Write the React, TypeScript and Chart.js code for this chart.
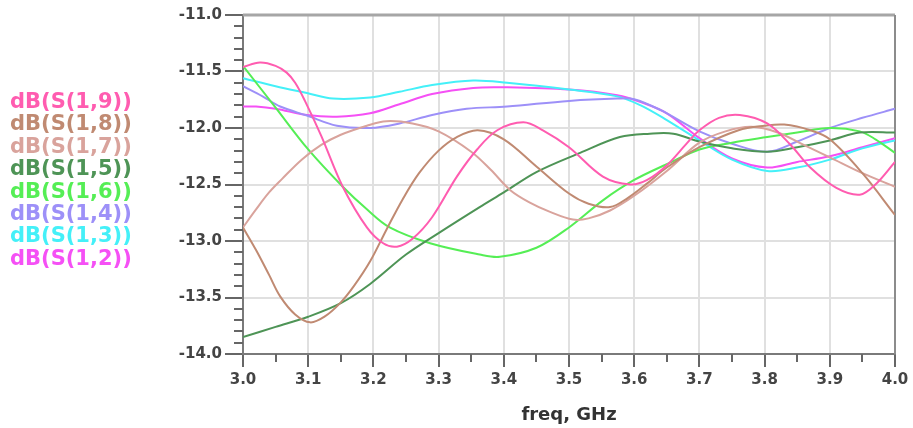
import React, { useEffect, useRef } from 'react';
import { Chart, registerables } from 'chart.js';

Chart.register(...registerables);

// ---- tick labels ----
const xTicks = [3.0, 3.1, 3.2, 3.3, 3.4, 3.5, 3.6, 3.7, 3.8, 3.9, 4.0];
const yTicks = [-14.0, -13.5, -13.0, -12.5, -12.0, -11.5, -11.0];
const xTitle = 'freq, GHz';

// ---- series ----
const s19Freq = [3.0, 3.026, 3.05, 3.067, 3.08, 3.095, 3.12, 3.153, 3.19, 3.215, 3.236, 3.26, 3.29, 3.328, 3.359, 3.39, 3.43, 3.46, 3.5, 3.552, 3.594, 3.62, 3.65, 3.68, 3.7, 3.73, 3.762, 3.804, 3.84, 3.87, 3.91, 3.946, 3.97, 4.0];
const s19Db = [-11.46, -11.42, -11.45, -11.51, -11.6, -11.76, -12.07, -12.52, -12.88, -13.02, -13.05, -12.98, -12.79, -12.43, -12.19, -12.02, -11.95, -12.02, -12.17, -12.43, -12.5, -12.46, -12.33, -12.14, -12.02, -11.91, -11.885, -11.96, -12.15, -12.35, -12.53, -12.59, -12.5, -12.3];

const s18Freq = [3.0, 3.02, 3.04, 3.057, 3.08, 3.103, 3.125, 3.149, 3.17, 3.195, 3.22, 3.245, 3.27, 3.3, 3.328, 3.36, 3.4, 3.45, 3.5, 3.53, 3.563, 3.59, 3.62, 3.65, 3.7, 3.76, 3.8, 3.83, 3.87, 3.9, 3.95, 4.0];
const s18Db = [-12.88, -13.08, -13.3, -13.49, -13.65, -13.72, -13.67, -13.55, -13.4, -13.18, -12.9, -12.63, -12.4, -12.2, -12.08, -12.02, -12.1, -12.34, -12.58, -12.67, -12.7, -12.62, -12.49, -12.35, -12.17, -12.02, -11.98, -11.97, -12.02, -12.1, -12.4, -12.77];

const s17Freq = [3.0, 3.02, 3.04, 3.06, 3.09, 3.12, 3.15, 3.19, 3.22, 3.26, 3.3, 3.35, 3.38, 3.41, 3.44, 3.47, 3.506, 3.53, 3.563, 3.6, 3.65, 3.7, 3.74, 3.78, 3.82, 3.86, 3.9, 3.95, 4.0];
const s17Db = [-12.88, -12.72, -12.57, -12.45, -12.28, -12.15, -12.06, -11.98, -11.94, -11.96, -12.03, -12.21, -12.37, -12.55, -12.66, -12.74, -12.81, -12.8, -12.73, -12.6, -12.38, -12.13, -12.03, -11.99, -12.04, -12.15, -12.26, -12.4, -12.52];

const s15Freq = [3.0, 3.05, 3.1, 3.15, 3.195, 3.25, 3.3, 3.363, 3.4, 3.45, 3.517, 3.578, 3.624, 3.66, 3.7, 3.75, 3.804, 3.85, 3.9, 3.946, 4.0];
const s15Db = [-13.85, -13.76, -13.67, -13.55, -13.38, -13.12, -12.93, -12.7, -12.57, -12.39, -12.22, -12.08, -12.05, -12.05, -12.12, -12.18, -12.21, -12.17, -12.11, -12.04, -12.04];

const s16Freq = [3.0, 3.05, 3.1, 3.153, 3.19, 3.225, 3.287, 3.363, 3.394, 3.45, 3.5, 3.552, 3.6, 3.65, 3.7, 3.75, 3.804, 3.85, 3.9, 3.946, 3.97, 4.0];
const s16Db = [-11.45, -11.82, -12.19, -12.52, -12.72, -12.88, -13.02, -13.12, -13.14, -13.06, -12.88, -12.64, -12.46, -12.32, -12.19, -12.13, -12.08, -12.04, -12.0, -12.03, -12.1, -12.22];

const s14Freq = [3.0, 3.03, 3.057, 3.098, 3.144, 3.195, 3.24, 3.29, 3.343, 3.405, 3.5, 3.574, 3.6, 3.64, 3.7, 3.75, 3.804, 3.85, 3.9, 3.95, 4.0];
const s14Db = [-11.63, -11.72, -11.81, -11.89, -11.98, -12.0, -11.96, -11.885, -11.83, -11.81, -11.76, -11.74, -11.745, -11.84, -12.03, -12.14, -12.21, -12.12, -12.0, -11.91, -11.83];

const s13Freq = [3.0, 3.05, 3.098, 3.138, 3.195, 3.24, 3.29, 3.353, 3.405, 3.5, 3.574, 3.61, 3.65, 3.7, 3.75, 3.804, 3.85, 3.9, 3.95, 4.0];
const s13Db = [-11.56, -11.63, -11.69, -11.74, -11.73, -11.68, -11.62, -11.58, -11.6, -11.66, -11.72, -11.8, -11.93, -12.11, -12.28, -12.38, -12.35, -12.28, -12.18, -12.11];

const s12Freq = [3.0, 3.02, 3.05, 3.098, 3.144, 3.195, 3.24, 3.29, 3.353, 3.405, 3.5, 3.574, 3.61, 3.65, 3.7, 3.75, 3.804, 3.85, 3.9, 3.95, 4.0];
const s12Db = [-11.81, -11.81, -11.83, -11.885, -11.9, -11.87, -11.79, -11.7, -11.645, -11.64, -11.66, -11.71, -11.77, -11.87, -12.09, -12.27, -12.35, -12.3, -12.25, -12.17, -12.09];

// legend order (top to bottom)
const seriesLabels = ['dB(S(1,9))', 'dB(S(1,8))', 'dB(S(1,7))', 'dB(S(1,5))', 'dB(S(1,6))', 'dB(S(1,4))', 'dB(S(1,3))', 'dB(S(1,2))'];
const seriesColors = ['#ff5cb0', '#c08a72', '#d9a39c', '#4e9456', '#55ee55', '#9d90f8', '#44f0f8', '#f550f5'];
const seriesFreq = [s19Freq, s18Freq, s17Freq, s15Freq, s16Freq, s14Freq, s13Freq, s12Freq];
const seriesDb = [s19Db, s18Db, s17Db, s15Db, s16Db, s14Db, s13Db, s12Db];

const FONT = 'DejaVu Sans';

const decorPlugin = {
  id: 'decor',
  beforeDatasetsDraw(chart: any) {
    const { ctx, chartArea: a } = chart;
    ctx.save();
    ctx.lineCap = 'butt';
    ctx.strokeStyle = '#a6a6a6';
    ctx.lineWidth = 3;
    ctx.beginPath();
    ctx.moveTo(a.left, a.top);
    ctx.lineTo(a.right, a.top);
    ctx.stroke();
    ctx.strokeStyle = '#8c8c8c';
    ctx.lineWidth = 2;
    ctx.beginPath();
    ctx.moveTo(a.right, a.top);
    ctx.lineTo(a.right, a.bottom);
    ctx.stroke();
    ctx.restore();
  },
  afterDraw(chart: any) {
    const { ctx, chartArea: a, scales } = chart;
    const xs = scales.x;
    const ys = scales.y;
    ctx.save();
    // minor ticks
    ctx.strokeStyle = '#666';
    ctx.lineWidth = 2;
    ctx.beginPath();
    for (let i = 0; i < yTicks.length - 1; i++) {
      const lo = yTicks[i];
      const hi = yTicks[i + 1];
      for (let k = 1; k < 5; k++) {
        const py = Math.round(ys.getPixelForValue(lo + ((hi - lo) * k) / 5));
        ctx.moveTo(a.left - 9, py);
        ctx.lineTo(a.left, py);
      }
    }
    for (let i = 0; i < xTicks.length - 1; i++) {
      const px = Math.round(xs.getPixelForValue((xTicks[i] + xTicks[i + 1]) / 2));
      ctx.moveTo(px, a.bottom);
      ctx.lineTo(px, a.bottom + 8);
    }
    ctx.stroke();
    // legend text
    ctx.font = `bold 21px "${FONT}"`;
    ctx.textAlign = 'left';
    ctx.textBaseline = 'alphabetic';
    chart.data.datasets.forEach((ds: any, i: number) => {
      ctx.fillStyle = ds.borderColor;
      ctx.fillText(ds.label, 10, 108 + 22.4 * i);
    });
    ctx.restore();
  },
};

export default function App() {
  const ref = useRef<HTMLCanvasElement | null>(null);

  useEffect(() => {
    if (!ref.current) return;
    const datasets = seriesLabels.map((label, i) => ({
      label,
      data: seriesFreq[i].map((f, j) => ({ x: f, y: seriesDb[i][j] })),
      borderColor: seriesColors[i],
      backgroundColor: seriesColors[i],
      borderWidth: 2,
      pointRadius: 0,
      fill: false,
      tension: 0.35,
    }));

    const tickFont = { family: FONT, size: 15, weight: 'bold' as const };

    const chart = new Chart(ref.current, {
      type: 'line',
      data: { datasets },
      options: {
        responsive: false,
        animation: false,
        layout: { padding: { left: 0, right: 18, top: 15, bottom: 0 } },
        plugins: { legend: { display: false }, tooltip: { enabled: false } },
        scales: {
          x: {
            type: 'linear',
            min: 3.0,
            max: 4.0,
            afterBuildTicks: (s: any) => {
              s.ticks = xTicks.map((v) => ({ value: v }));
            },
            ticks: {
              callback: (v: any) => Number(v).toFixed(1),
              font: tickFont,
              color: '#444',
              padding: 4,
              maxRotation: 0,
              autoSkip: false,
            },
            grid: { color: '#e0e0e0', lineWidth: 2, tickColor: '#666', tickWidth: 2, tickLength: 13 },
            border: { color: '#7a7a7a', width: 2 },
            title: {
              display: true,
              text: xTitle,
              font: { family: FONT, size: 18, weight: 'bold' },
              color: '#333',
              padding: { top: 0, bottom: 2 },
            },
            afterFit: (s: any) => {
              s.height = 74;
            },
          },
          y: {
            type: 'linear',
            min: -14,
            max: -11,
            afterBuildTicks: (s: any) => {
              s.ticks = yTicks.map((v) => ({ value: v }));
            },
            ticks: {
              callback: (v: any) => Number(v).toFixed(1),
              font: tickFont,
              color: '#444',
              padding: 3,
              autoSkip: false,
            },
            grid: { color: '#e0e0e0', lineWidth: 2, tickColor: '#666', tickWidth: 2, tickLength: 18 },
            border: { color: '#7a7a7a', width: 2 },
            afterFit: (s: any) => {
              s.width = 243;
            },
          },
        },
      },
      plugins: [decorPlugin],
    });
    return () => chart.destroy();
  }, []);

  return (
    <div style={{ position: 'absolute', left: 0, top: 0, width: 913, height: 428, background: '#fff' }}>
      <canvas ref={ref} width={913} height={428} style={{ display: 'block' }} />
    </div>
  );
}
